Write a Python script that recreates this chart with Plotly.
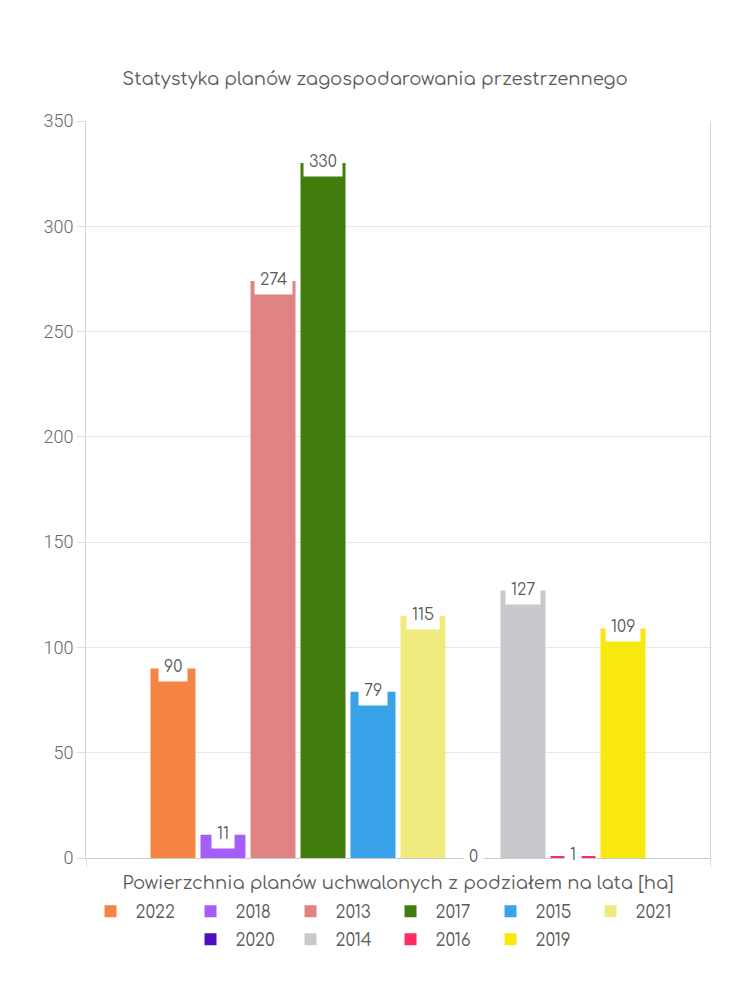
import plotly.graph_objects as go

years = ["2022", "2018", "2013", "2017", "2015", "2021", "2020", "2014", "2016", "2019"]
values = [90, 11, 274, 330, 79, 115, 0, 127, 1, 109]
colors = ["#F58442", "#A55EFA", "#E18383", "#417D0C", "#39A3EA",
          "#F0EB7E", "#4E0EC0", "#C8C9CD", "#FF2D5F", "#F8E80E"]
y_ticks = [0, 50, 100, 150, 200, 250, 300, 350]
legend_rows = [6, 4]  # entries per legend row

title_text = "Statystyka planów zagospodarowania przestrzennego"
x_title = "Powierzchnia planów uchwalonych z podziałem na lata [ha]"

FONT = "Comfortaa, Lato, sans-serif"
TXT = "#5a5a5a"

fig = go.Figure()
for i, (yr, v, c) in enumerate(zip(years, values, colors)):
    fig.add_trace(go.Bar(
        x=[i], y=[v], name=yr, width=0.9,
        marker=dict(color=c, line=dict(width=0)),
        legend="legend" if i < legend_rows[0] else "legend2",
        hovertemplate=yr + ": %{y}<extra></extra>",
    ))
    fig.add_annotation(
        x=i, y=v, xref="x", yref="y", text=str(v), showarrow=False,
        yanchor="middle", xanchor="center", yshift=1,
        bgcolor="white", borderpad=5,
        font=dict(family=FONT, size=16, color=TXT),
    )

n = len(years)
half = 6.24
xr = [(n - 1) / 2 - half, (n - 1) / 2 + half]

legend_common = dict(orientation="h", xanchor="center", yanchor="middle",
                     entrywidth=45, itemwidth=40, traceorder="normal",
                     font=dict(family=FONT, size=17, color=TXT),
                     bgcolor="rgba(0,0,0,0)")

fig.update_layout(
    width=750, height=1000,
    margin=dict(l=86, r=40, t=121, b=142, autoexpand=False),
    paper_bgcolor="white", plot_bgcolor="white",
    barmode="overlay",
    font=dict(family=FONT, color=TXT),
    title=dict(text=title_text, x=0.5, xanchor="center", y=1 - 79 / 1000,
               yanchor="middle", font=dict(family=FONT, size=18, color=TXT)),
    xaxis=dict(range=xr, showticklabels=False, showgrid=False, zeroline=False,
               showline=True, linecolor="#cccccc", linewidth=1,
               tickvals=xr, ticks="outside", ticklen=8, tickcolor="#dddddd",
               fixedrange=True,
               title=dict(text=x_title, standoff=10,
                          font=dict(family=FONT, size=18, color=TXT))),
    yaxis=dict(range=[0, 350], tickvals=y_ticks, showgrid=True,
               gridcolor="#e8e8e8", zeroline=False,
               showline=True, linecolor="#d4d4d4", mirror=True,
               ticks="outside", ticklen=8, tickcolor="#dddddd",
               tickfont=dict(family="Roboto, sans-serif", weight=300,
                             size=18, color="#666666")),
    legend=dict(legend_common, x=0.48, y=-0.073),
    legend2=dict(legend_common, x=0.48, y=-0.111),
    showlegend=True,
)

fig.write_html("out.html")
